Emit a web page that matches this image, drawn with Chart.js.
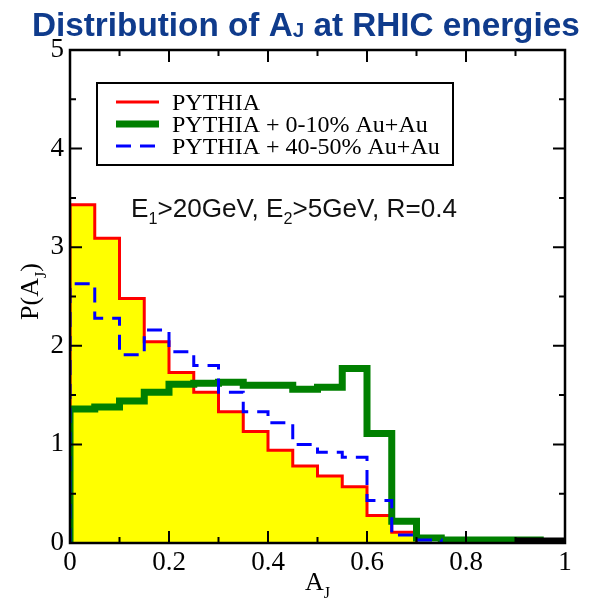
<!DOCTYPE html>
<html>
<head>
<meta charset="utf-8">
<title>Distribution of AJ at RHIC energies</title>
<script src="https://cdn.jsdelivr.net/npm/chart.js@4.4.1/dist/chart.umd.min.js"></script>
<style>
  html, body { margin: 0; padding: 0; background: #fff; }
  canvas { display: block; }
</style>
</head>
<body>
<canvas id="ajChart" width="591" height="609"></canvas>
<script>
// bin edges of the A_J histograms (bin width 0.05)
const binEdges = [0, 0.05, 0.1, 0.15, 0.2, 0.25, 0.3, 0.35, 0.4, 0.45, 0.5,
                  0.55, 0.6, 0.65, 0.7, 0.75, 0.8, 0.85, 0.9, 0.95, 1.0];

// P(A_J) per bin, starting at the first edge
const pythia = [3.43, 3.09, 2.48, 2.04, 1.73, 1.53, 1.33, 1.13, 0.94, 0.78, 0.68, 0.57, 0.28, 0.11];
const pythiaCentral = [1.36, 1.38, 1.44, 1.53, 1.61, 1.62, 1.63, 1.60, 1.60, 1.56, 1.58, 1.77, 1.11, 0.22,
                       0.05, 0.03, 0.03, 0.03, 0.03];
const pythiaPeripheral = [2.63, 2.28, 1.91, 2.16, 1.94, 1.80, 1.53, 1.33, 1.22, 1.00, 0.92, 0.87, 0.43, 0.08, 0.03];
// last two bins drawn in black along the axis
const overflowStart = 18;
const overflow = [0.02, 0.02];

const xTicks = [0, 0.2, 0.4, 0.6, 0.8, 1];
const yTicks = [0, 1, 2, 3, 4, 5];

const legendLabels = ['PYTHIA', 'PYTHIA + 0-10% Au+Au', 'PYTHIA + 40-50% Au+Au'];

const SERIF = "'Liberation Serif', 'Times New Roman', serif";
const SANS = "'Liberation Sans', Arial, sans-serif";

// turn bin contents into step points, closing down to zero at the last edge
function histPoints(values, start) {
    start = start || 0;
    const pts = [{ x: binEdges[start], y: 0 }];
    values.forEach((v, i) => pts.push({ x: binEdges[start + i], y: v }));
    pts.push({ x: binEdges[start + values.length], y: values[values.length - 1] });
    pts.push({ x: binEdges[start + values.length], y: 0 });
    return pts;
}

// draw a run of text pieces, some as subscripts
function drawRich(ctx, parts, x, y, baseSize, family, weight) {
    let cx = x;
    parts.forEach(p => {
        const size = p.sub ? baseSize * 0.62 : baseSize;
        ctx.font = (weight || '') + ' ' + size + 'px ' + family;
        ctx.fillText(p.t, cx, y + (p.sub ? baseSize * (p.dy || 0.18) : 0));
        cx += ctx.measureText(p.t).width;
    });
    return cx - x;
}

function richWidth(ctx, parts, baseSize, family, weight) {
    let w = 0;
    parts.forEach(p => {
        const size = p.sub ? baseSize * 0.62 : baseSize;
        ctx.font = (weight || '') + ' ' + size + 'px ' + family;
        w += ctx.measureText(p.t).width;
    });
    return w;
}

const decorations = {
    id: 'decorations',
    afterDatasetsDraw(chart) {
        const ctx = chart.ctx;
        const area = chart.chartArea;
        const xs = chart.scales.x;
        const ys = chart.scales.y;
        ctx.save();

        // frame
        ctx.strokeStyle = '#000';
        ctx.lineWidth = 2.5;
        ctx.strokeRect(area.left, area.top, area.right - area.left, area.bottom - area.top);

        // inward ticks on all four sides
        ctx.lineWidth = 2;
        ctx.beginPath();
        for (let k = 0; k <= 10; k++) {
            const v = k / 10;
            const len = k % 2 === 0 ? 12 : 6;
            const px = xs.getPixelForValue(v);
            ctx.moveTo(px, area.bottom); ctx.lineTo(px, area.bottom - len);
            ctx.moveTo(px, area.top); ctx.lineTo(px, area.top + len);
        }
        for (let k = 0; k <= 10; k++) {
            const v = k / 2;
            const len = k % 2 === 0 ? 12 : 6;
            const py = ys.getPixelForValue(v);
            ctx.moveTo(area.left, py); ctx.lineTo(area.left + len, py);
            ctx.moveTo(area.right, py); ctx.lineTo(area.right - len, py);
        }
        ctx.stroke();

        // legend box
        ctx.fillStyle = '#fff';
        ctx.fillRect(97, 83, 356, 82);
        ctx.lineWidth = 2;
        ctx.strokeRect(97, 83, 356, 82);
        const rows = [102, 124, 146];
        const sets = chart.data.datasets;
        rows.forEach((ry, i) => {
            const ds = sets[i];
            ctx.beginPath();
            ctx.strokeStyle = ds.borderColor;
            ctx.lineWidth = ds.borderWidth;
            ctx.setLineDash(ds.borderDash || []);
            ctx.moveTo(116, ry);
            ctx.lineTo(159, ry);
            ctx.stroke();
            ctx.setLineDash([]);
            ctx.fillStyle = '#000';
            ctx.font = '24px ' + SERIF;
            ctx.textBaseline = 'alphabetic';
            ctx.fillText(legendLabels[i], 172, ry + 8);
        });

        // cut annotation
        ctx.fillStyle = '#111';
        const cuts = [{ t: 'E' }, { t: '1', sub: true, dy: 0.25 }, { t: '>20GeV, E' },
                      { t: '2', sub: true, dy: 0.25 }, { t: '>5GeV, R=0.4' }];
        let size = 22;
        size = size * 326 / richWidth(ctx, cuts, size, SANS, '');
        drawRich(ctx, cuts, 131, 217, size, SANS, '');

        // title
        ctx.fillStyle = '#0f3b8c';
        const title = [{ t: 'Distribution of A' }, { t: 'J', sub: true, dy: 0.02 }, { t: ' at RHIC energies' }];
        let tsize = 30;
        tsize = tsize * 548 / richWidth(ctx, title, tsize, SANS, 'bold');
        drawRich(ctx, title, 32, 36, tsize, SANS, 'bold');

        // axis titles
        ctx.fillStyle = '#000';
        const xt = [{ t: 'A' }, { t: 'J', sub: true, dy: 0.3 }];
        const xw = richWidth(ctx, xt, 26, SERIF, '');
        drawRich(ctx, xt, (area.left + area.right) / 2 - xw / 2, 590, 26, SERIF, '');

        const yt = [{ t: 'P(A' }, { t: 'J', sub: true, dy: 0.3 }, { t: ')' }];
        const yw = richWidth(ctx, yt, 26, SERIF, '');
        ctx.translate(38, (area.top + area.bottom) / 2 - 5);
        ctx.rotate(-Math.PI / 2);
        drawRich(ctx, yt, -yw / 2, 0, 26, SERIF, '');

        ctx.restore();
    }
};

new Chart(document.getElementById('ajChart'), {
    type: 'line',
    data: {
        datasets: [
            {
                label: legendLabels[0],
                data: histPoints(pythia),
                borderColor: '#ff0000',
                backgroundColor: '#ffff00',
                borderWidth: 3,
                fill: 'origin',
                stepped: 'before',
                pointRadius: 0,
                order: 4
            },
            {
                label: legendLabels[1],
                data: histPoints(pythiaCentral),
                borderColor: '#008000',
                borderWidth: 7,
                fill: false,
                stepped: 'before',
                pointRadius: 0,
                order: 2
            },
            {
                label: legendLabels[2],
                data: histPoints(pythiaPeripheral),
                borderColor: '#0000ff',
                borderWidth: 3,
                borderDash: [15, 9],
                fill: false,
                stepped: 'before',
                pointRadius: 0,
                order: 1
            },
            {
                label: 'overflow',
                data: histPoints(overflow, overflowStart).slice(1, -1),
                borderColor: '#000',
                borderWidth: 7,
                fill: false,
                stepped: 'before',
                pointRadius: 0,
                order: 0
            }
        ]
    },
    options: {
        responsive: false,
        devicePixelRatio: 1,
        animation: false,
        layout: { padding: { top: 50, right: 26, left: 0, bottom: 0 } },
        plugins: {
            legend: { display: false },
            tooltip: { enabled: false },
            title: { display: false }
        },
        scales: {
            x: {
                type: 'linear',
                min: 0,
                max: 1,
                afterFit: s => { s.height = 66; },
                afterBuildTicks: s => { s.ticks = xTicks.map(v => ({ value: v })); },
                grid: { display: false, drawTicks: false },
                border: { display: false },
                ticks: {
                    color: '#000',
                    padding: 4,
                    maxRotation: 0,
                    font: { family: SERIF, size: 27 },
                    callback: v => String(Math.round(v * 10) / 10)
                }
            },
            y: {
                type: 'linear',
                min: 0,
                max: 5,
                afterFit: s => { s.width = 70; },
                afterBuildTicks: s => { s.ticks = yTicks.map(v => ({ value: v })); },
                grid: { display: false, drawTicks: false },
                border: { display: false },
                ticks: {
                    color: '#000',
                    padding: 6,
                    font: { family: SERIF, size: 27 },
                    callback: v => String(v)
                }
            }
        }
    },
    plugins: [decorations]
});
</script>
</body>
</html>
